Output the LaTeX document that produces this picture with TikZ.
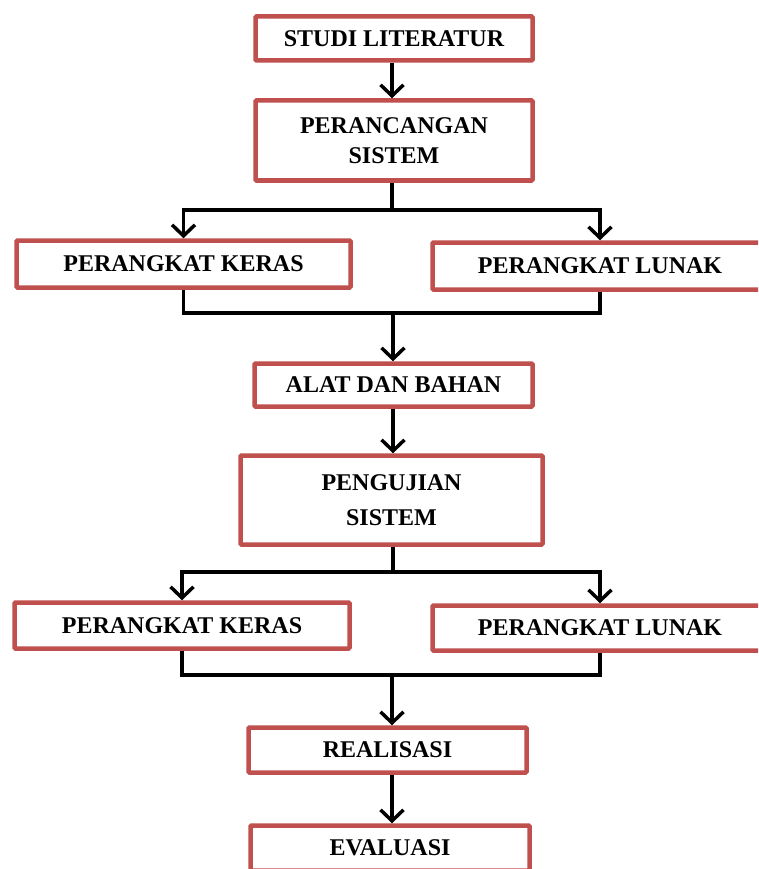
\documentclass[tikz,border=0pt]{standalone}
\usepackage{fontspec}
\setmainfont{Liberation Serif}
\usetikzlibrary{arrows.meta}
\definecolor{boxred}{HTML}{C0504D}
\tikzset{
  box/.style={draw=boxred, line width=4.5pt, fill=white, rounded corners=1pt,
    inner sep=0pt, font=\fontsize{24}{30}\selectfont\bfseries, align=center},
  conn/.style={line width=3.5pt, black},
  arr/.style={conn, -{Straight Barb[length=11pt,width=23pt,line width=3.5pt]}}
}
\begin{document}
\begin{tikzpicture}[x=1pt,y=-1pt]
\clip (0,0) rectangle (758,869);
\fill[white] (0,0) rectangle (758,869);
% boxes
\node[box, minimum width=277pt, minimum height=44pt] (s1) at (394,38.5) {STUDI LITERATUR};
\node[box, minimum width=277pt, minimum height=80pt] (s2) at (394,140.5) {PERANCANGAN\\SISTEM};
\node[box, minimum width=334pt, minimum height=47pt] (k1) at (183.5,264) {PERANGKAT KERAS};
\node[box, minimum width=335pt, minimum height=47pt] (l1) at (600,266) {PERANGKAT LUNAK};
\node[box, minimum width=278pt, minimum height=43pt] (a1) at (393.5,385) {ALAT DAN BAHAN};
\node[box, minimum width=302pt, minimum height=89pt, font=\fontsize{24}{35}\selectfont\bfseries] (p1) at (391.5,500) {PENGUJIAN\\SISTEM};
\node[box, minimum width=335pt, minimum height=46pt] (k2) at (182,625.5) {PERANGKAT KERAS};
\node[box, minimum width=335pt, minimum height=45pt] (l2) at (600,628) {PERANGKAT LUNAK};
\node[box, minimum width=278pt, minimum height=45pt] (r1) at (387.5,750) {REALISASI};
\node[box, minimum width=279pt, minimum height=45pt] (e1) at (390,848) {EVALUASI};
% junctions
\coordinate (j1) at (392,210);
\coordinate (m1) at (393,313);
\coordinate (j2) at (393,572);
\coordinate (m2) at (392,675);
% connectors
\draw[arr] (s1.south -| j1) -- (s2.north -| j1);
\draw[conn] (s2.south -| j1) -- (j1);
\draw[arr] (j1) -| (k1.north);
\draw[arr] (j1) -| (l1.north);
\draw[conn] (k1.south) |- (m1) -| (l1.south);
\draw[arr] (m1) -- (a1.north -| m1);
\draw[arr] (a1.south -| m1) -- (p1.north -| m1);
\draw[conn] (p1.south -| j2) -- (j2);
\draw[arr] (j2) -| (k2.north);
\draw[arr] (j2) -| (l2.north);
\draw[conn] (k2.south) |- (m2) -| (l2.south);
\draw[arr] (m2) -- (r1.north -| m2);
\draw[arr] (r1.south -| m2) -- (e1.north -| m2);
\end{tikzpicture}
\end{document}
